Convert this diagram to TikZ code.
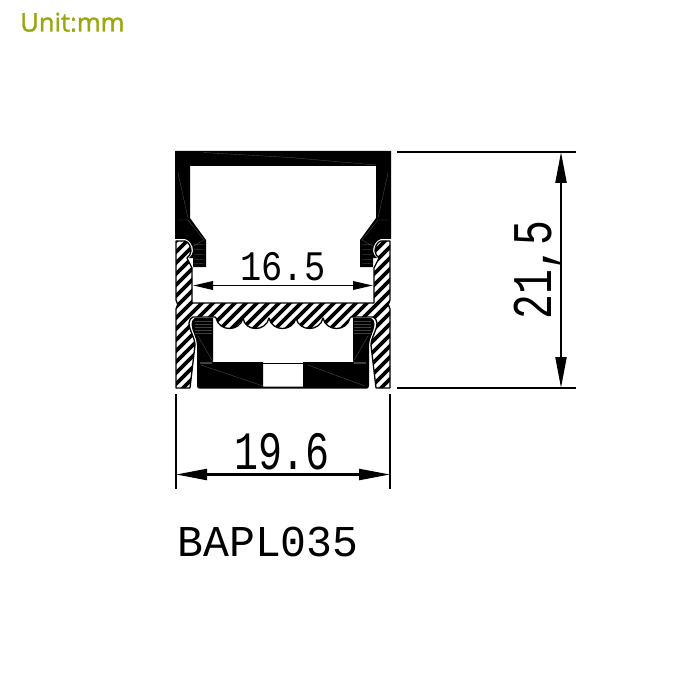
\documentclass[tikz,border=0pt]{standalone}
\usepackage{fontspec}
\usetikzlibrary{arrows.meta}
\newfontfamily\cadfont{Liberation Mono}
\newfontfamily\unitfont[FakeBold=1.6]{Open Sans}
\definecolor{unitcol}{HTML}{9CA70F}
\tikzset{
 x=1pt,y=-1pt,
 dimline/.style={line width=2.2pt,black},
 dimarrow/.style={dimline,{Triangle[length=31pt,width=11pt]}-{Triangle[length=31pt,width=11pt]}},
 smallarrow/.style={dimline,line width=1.9pt,{Triangle[length=20pt,width=8.5pt]}-{Triangle[length=20pt,width=8.5pt]}},
 cadtext/.style={inner sep=0pt,anchor=base,black},
 seam/.style={line width=0.35pt,white,opacity=0.3},
 seamd/.style={line width=0.7pt,white,opacity=0.25},
}
\def\profilepath{(176,241) -- (185,241) .. controls (189,242) and (191,247) .. (191,251) .. controls (191,254) and (189,256) .. (187,258) -- (192,268) -- (192,303) -- (374,303) -- (374,268) -- (379,258) .. controls (377,256) and (375,254) .. (375,251) .. controls (375,247) and (377,242) .. (381,241) -- (390,241) -- (390,300) -- (388.3,304.5) -- (390,309) -- (390,388) -- (376,388) -- (371,345) .. controls (371,338) and (377,330) .. (377,323) .. controls (377,320) and (375,318) .. (373,317) -- (351,317) -- (350,318) .. controls (347,332) and (326,332) .. (323,318) .. controls (320,332) and (299,332) .. (296,318) .. controls (293,332) and (272,332) .. (269,318) .. controls (266,332) and (245,332) .. (243,318) .. controls (240,332) and (219,332) .. (216,318) -- (215,317) -- (193,317) .. controls (191,318) and (189,320) .. (189,323) .. controls (189,330) and (195,338) .. (195,345) -- (190,388) -- (176,388) -- (176,309) -- (177.7,304.5) -- (176,300) -- cycle}
\begin{document}
\begin{tikzpicture}
\useasboundingbox (0,0) rectangle (700,700);
\fill[white] (0,0) rectangle (700,700);
% title
\node[inner sep=0pt,anchor=base west,text=unitcol] (unit) at (20,31.5) {\unitfont\fontsize{25.6}{26}\selectfont Unit:mm};
% hatched profile
\begin{scope}
 \clip \profilepath;
 \foreach \i in {-5,6,...,500}{
  \draw[line width=3.8pt,black] (\i,400) -- (\i+270,130);
 }
\end{scope}
\draw[line width=1.3pt,black,line join=round] \profilepath;
% cover
\fill[black] (175,151) -- (391,151) -- (391,239) -- (381,239) .. controls (376,240) and (373,246) .. (373,251) .. controls (373,254) and (375,256) .. (377,258) -- (373,258) -- (373,267) -- (360,267) -- (360,240) -- (376,218) -- (376,166) -- (190,166) -- (190,218) -- (206,240) -- (206,267) -- (193,267) -- (193,258) -- (189,258) .. controls (191,256) and (193,254) .. (193,251) .. controls (193,246) and (190,240) .. (185,239) -- (175,239) -- cycle;
% lower insert
\fill[black] (195,318) .. controls (193,319) and (191.5,321) .. (191.5,324) .. controls (191.5,331) and (197,338) .. (197,345) -- (197,386) .. controls (197,387.5) and (198,388.5) .. (199,388.5) -- (367,388.5) .. controls (368,388.5) and (369,387.5) .. (369,386) -- (369,345) .. controls (369,338) and (374.5,331) .. (374.5,324) .. controls (374.5,321) and (373,319) .. (371,318) -- (353,318) -- (353,362) -- (303,362) -- (303,386.5) -- (263,386.5) -- (263,362) -- (213,362) -- (213,318) -- cycle;
\draw[line width=0.6pt,black] (263,363) -- (303,363);
% seams in black parts
\draw[seam] (203,152.5) -- (290,157.5) -- (376,165);
\draw[seam] (178,173) -- (188,218);
\draw[seam] (388,173) -- (378,218);
\draw[seam] (177,220) -- (188,220) -- (204,240) -- (190,248);
\draw[seam] (389,220) -- (378,220) -- (362,240) -- (376,248);
\foreach \yy in {244,249,254,259,263}{
 \draw[seam] (193,\yy) -- (205,\yy+1);
 \draw[seam] (361,\yy+1) -- (373,\yy);
}
\foreach \yy in {321,324,327,330,333}{
 \draw[seamd] (195,\yy) -- (212,\yy);
 \draw[seamd] (354,\yy) -- (371,\yy);
}
\draw[seam] (198,336) -- (213,362);
\draw[seam] (368,336) -- (353,362);
\draw[seamd,line width=1.5pt] (200,363) -- (212,363);
\draw[seamd,line width=1.5pt] (354,363) -- (366,363);
\draw[seam] (201,365) -- (263,386);
\draw[seam] (365,386) -- (308,365);
% dimensions
\coordinate (ra) at (397,152); \coordinate (rb) at (576,152);
\coordinate (sa) at (397,388); \coordinate (sb) at (576,388);
\coordinate (va) at (561,152); \coordinate (vb) at (561,388);
\draw[dimline] (ra) -- (rb);
\draw[dimline] (sa) -- (sb);
\draw[dimarrow] (va) -- (vb);
\coordinate (la) at (176,394); \coordinate (lb) at (176,489);
\coordinate (ma) at (390,394); \coordinate (mb) at (390,489);
\coordinate (ha) at (176,474.5); \coordinate (hb) at (390,474.5);
\draw[dimline] (la) -- (lb);
\draw[dimline] (ma) -- (mb);
\draw[dimarrow] (ha) -- (hb);
\coordinate (ia) at (193,285.5); \coordinate (ib) at (373,285.5);
\draw[smallarrow] (ia) -- (ib);
% texts
\node[cadtext] (d165) at (283,280) {\cadfont\fontsize{42}{42}\selectfont\scalebox{0.84}[1]{16.5}};
\node[cadtext] (d196) at (282,469) {\cadfont\fontsize{54}{54}\selectfont\scalebox{0.74}[1]{19.6}};
\node[cadtext,rotate=90] (d215) at (551,270) {\cadfont\fontsize{56}{56}\selectfont\scalebox{0.74}[1]{21,5}};
\node[cadtext] (name) at (268,556) {\cadfont\fontsize{44}{44}\selectfont\scalebox{0.98}[1]{BAPL035}};
\end{tikzpicture}
\end{document}
